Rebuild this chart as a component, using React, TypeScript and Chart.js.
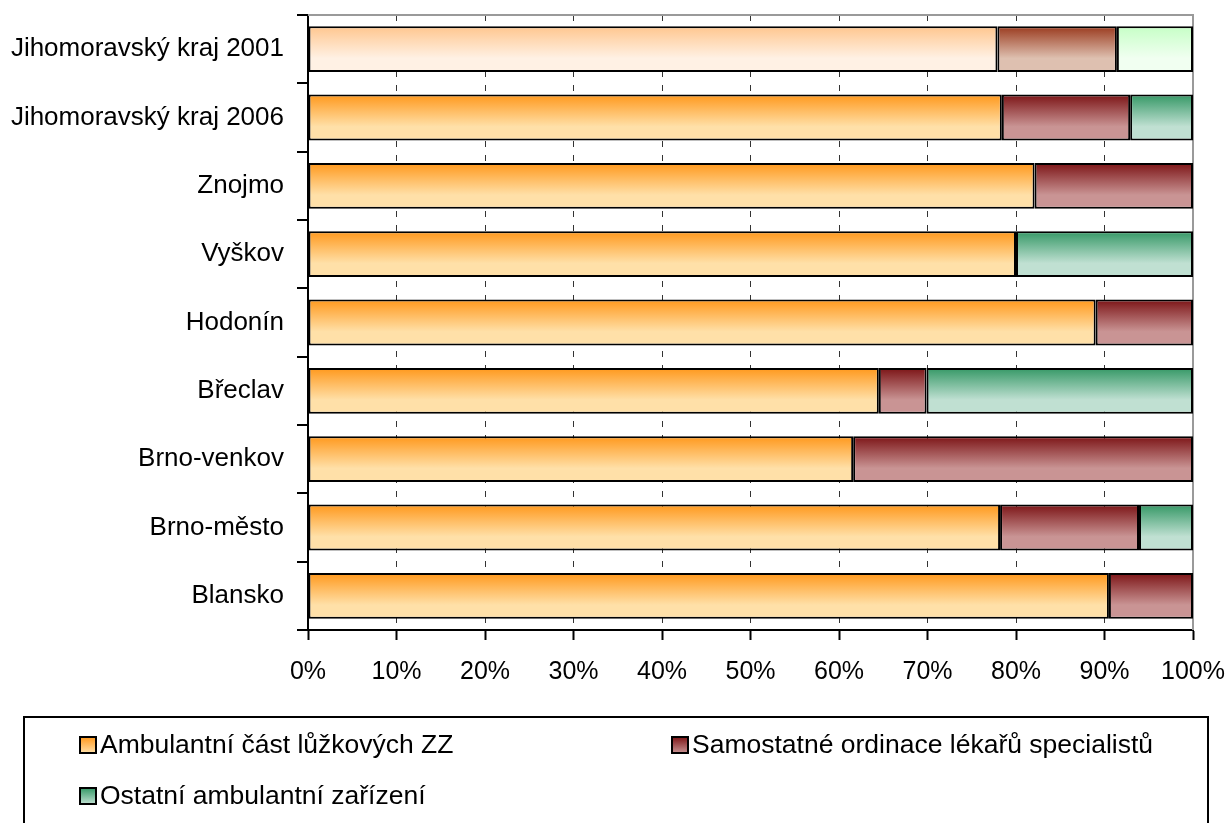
import React, { useEffect, useRef } from 'react';
import { Chart, registerables } from 'chart.js';

Chart.register(...registerables);

const categories = [
  'Jihomoravský kraj 2001',
  'Jihomoravský kraj 2006',
  'Znojmo',
  'Vyškov',
  'Hodonín',
  'Břeclav',
  'Brno-venkov',
  'Brno-město',
  'Blansko',
];

const seriesNames = [
  'Ambulantní část lůžkových ZZ',
  'Samostatné ordinace lékařů specialistů',
  'Ostatní ambulantní zařízení',
];

const ambulantni = [77.9, 78.4, 82.1, 80.0, 89.0, 64.5, 61.6, 78.2, 90.5];
const samostatne = [13.5, 14.5, 17.9, 0, 11.0, 5.4, 38.4, 15.7, 9.5];
const ostatni = [8.6, 7.1, 0, 20.0, 0, 30.1, 0, 6.1, 0];

const xTickValues = [0, 10, 20, 30, 40, 50, 60, 70, 80, 90, 100];

// [top, bottom] gradient colours
const strongColors = [
  ['#FF981C', '#FFE0A8'],
  ['#7C1416', '#C99494'],
  ['#359866', '#C0E0D2'],
];
const paleColors = [
  ['#FFC68E', '#FFF1E4'],
  ['#9A3A1E', '#DEC0B0'],
  ['#C6FFC6', '#F1FFF1'],
];

const BAR_PCT = 0.67;
const FONT = "'Liberation Sans', Arial, sans-serif";

function makeBg(seriesIdx: number) {
  return (ctx: any) => {
    const chart = ctx.chart;
    const yScale = chart.scales && chart.scales.y;
    const pal = ctx.dataIndex === 0 ? paleColors[seriesIdx] : strongColors[seriesIdx];
    if (!yScale || ctx.type !== 'data') return pal[1];
    const center = yScale.getPixelForValue(ctx.dataIndex);
    const cat = Math.abs(yScale.getPixelForValue(1) - yScale.getPixelForValue(0));
    const half = (cat * BAR_PCT) / 2;
    if (!Number.isFinite(center) || !Number.isFinite(half) || half <= 0) return pal[1];
    const g = chart.ctx.createLinearGradient(0, center - half, 0, center + half);
    g.addColorStop(0, pal[0]);
    g.addColorStop(0.7, pal[1]);
    g.addColorStop(1, pal[1]);
    return g;
  };
}

function zeroPadding(scale: any) {
  scale.paddingTop = 0;
  scale.paddingBottom = 0;
  scale.paddingLeft = 0;
  scale.paddingRight = 0;
}

const frameBorderPlugin = {
  id: 'frameBorder',
  beforeDatasetsDraw(chart: any) {
    const { ctx, chartArea } = chart;
    ctx.save();
    ctx.strokeStyle = '#9a9a9a';
    ctx.lineWidth = 2;
    ctx.beginPath();
    ctx.moveTo(chartArea.left, chartArea.top);
    ctx.lineTo(chartArea.right, chartArea.top);
    ctx.lineTo(chartArea.right, chartArea.bottom);
    ctx.stroke();
    ctx.restore();
  },
};

const boxLegendPlugin = {
  id: 'boxLegend',
  afterDraw(chart: any) {
    const c = chart.ctx;
    c.save();
    c.lineWidth = 2;
    c.strokeStyle = '#000';
    c.strokeRect(24, 717, 1184, 160);
    const slots = [
      { x: 80, y: 745 },
      { x: 672, y: 745 },
      { x: 80, y: 796 },
    ];
    c.font = `26.5px ${FONT}`;
    c.textBaseline = 'middle';
    c.textAlign = 'left';
    seriesNames.forEach((name, i) => {
      const s = slots[i];
      const size = 16;
      const top = s.y - size / 2;
      const g = c.createLinearGradient(0, top, 0, top + size);
      g.addColorStop(0, strongColors[i][0]);
      g.addColorStop(1, strongColors[i][1]);
      c.fillStyle = g;
      c.fillRect(s.x, top, size, size);
      c.lineWidth = 2;
      c.strokeStyle = '#000';
      c.strokeRect(s.x, top, size, size);
      c.fillStyle = '#000';
      c.fillText(name, s.x + size + 4, s.y + 1);
    });
    c.restore();
  },
};

export default function App() {
  const canvasRef = useRef<HTMLCanvasElement | null>(null);

  useEffect(() => {
    if (!canvasRef.current) return;
    const series = [ambulantni, samostatne, ostatni];
    const chart = new Chart(canvasRef.current, {
      type: 'bar',
      data: {
        labels: categories,
        datasets: series.map((vals, i) => ({
          label: seriesNames[i],
          data: vals,
          backgroundColor: makeBg(i),
          borderColor: '#000',
          borderWidth: 2,
          borderSkipped: false,
          barPercentage: BAR_PCT,
          categoryPercentage: 1,
        })),
      },
      options: {
        indexAxis: 'y',
        animation: false,
        responsive: true,
        maintainAspectRatio: false,
        layout: { padding: { top: 15, right: 38, left: 0, bottom: 133 } },
        plugins: {
          legend: { display: false },
          tooltip: { enabled: false },
          title: { display: false },
        },
        scales: {
          x: {
            stacked: true,
            min: 0,
            max: 100,
            afterFit: (scale: any) => {
              scale.height = 60;
              zeroPadding(scale);
            },
            afterBuildTicks: (scale: any) => {
              scale.ticks = xTickValues.map((v) => ({ value: v }));
            },
            ticks: {
              callback: (v: any) => `${v}%`,
              color: '#000',
              font: { family: FONT, size: 25 },
              padding: 17,
              maxRotation: 0,
              autoSkip: false,
            },
            grid: {
              color: '#333',
              lineWidth: 1,
              drawTicks: true,
              tickLength: 10,
              tickColor: '#000',
              tickWidth: 2,
              tickBorderDash: [],
            },
            border: { display: true, color: '#000', width: 2, dash: [6, 8] },
          },
          y: {
            stacked: true,
            afterFit: (scale: any) => {
              scale.width = 308;
              zeroPadding(scale);
            },
            ticks: {
              color: '#000',
              font: { family: FONT, size: 26 },
              padding: 13,
              autoSkip: false,
            },
            grid: {
              offset: true,
              drawOnChartArea: false,
              drawTicks: true,
              tickLength: 11,
              color: '#000',
              tickColor: '#000',
              lineWidth: 2,
              tickWidth: 2,
            },
            border: { display: true, color: '#000', width: 2 },
          },
        },
      },
      plugins: [frameBorderPlugin, boxLegendPlugin],
    });
    chart.update();
    return () => chart.destroy();
  }, []);

  return (
    <div style={{ position: 'absolute', left: 0, top: 0, width: 1231, height: 823, background: '#fff' }}>
      <canvas ref={canvasRef} />
    </div>
  );
}
